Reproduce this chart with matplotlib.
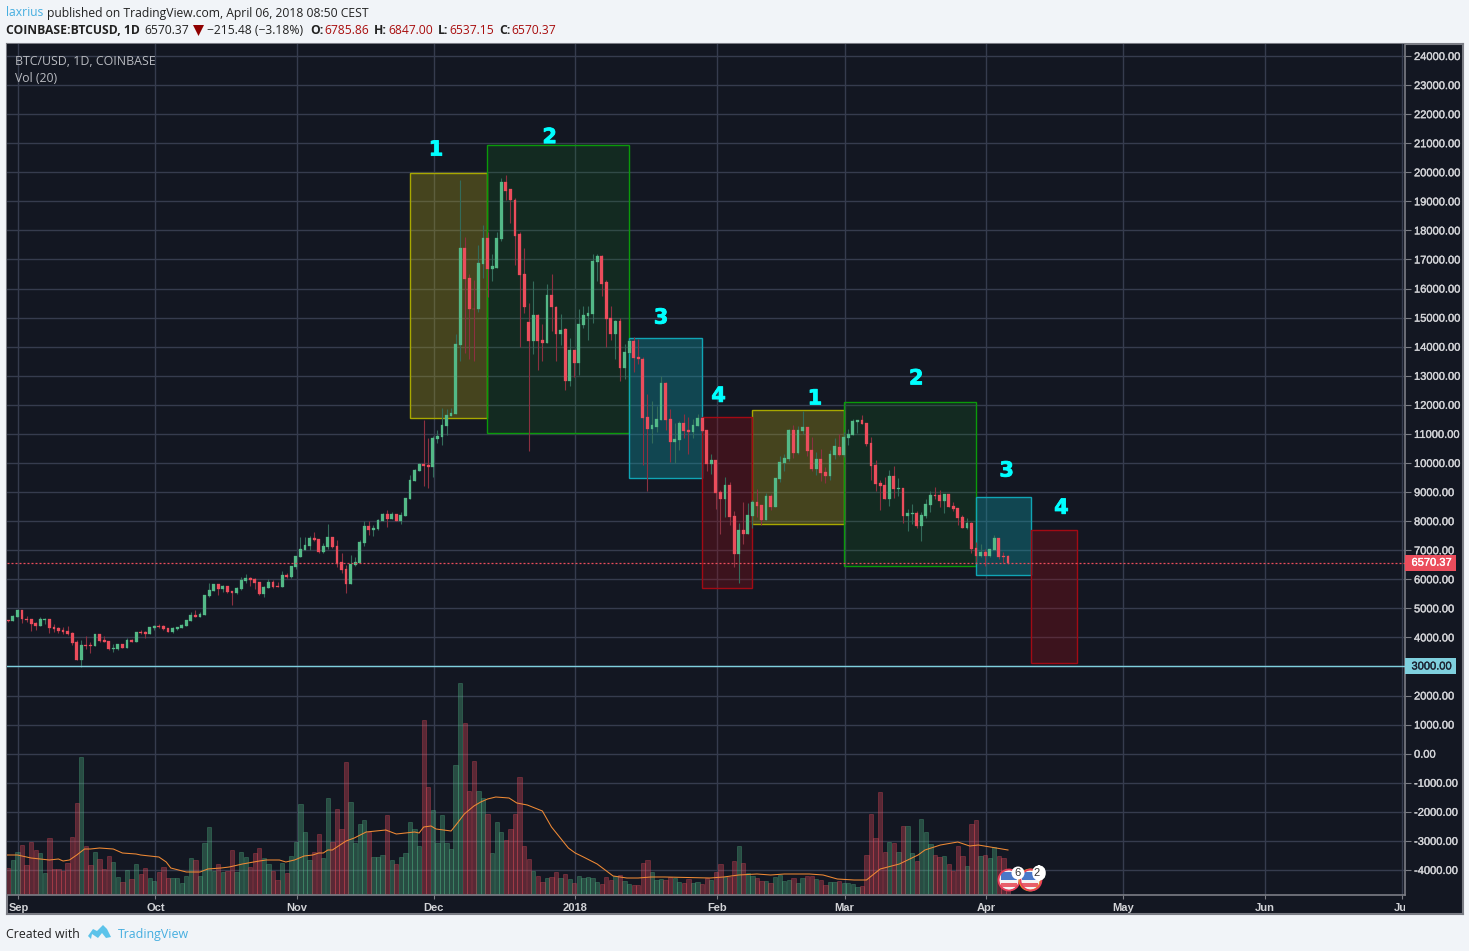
import matplotlib
matplotlib.use("Agg")
import matplotlib.pyplot as plt
import matplotlib.dates as mdates
import matplotlib.patheffects as pe
from matplotlib.patches import Rectangle, Circle, Polygon, FancyBboxPatch
import numpy as np
import pandas as pd

# ---------- data ----------
first_day = "2017-08-30"
ohlc = [
(4590,4610,4530,4560),(4560,4760,4550,4730),(4700,4950,4690,4940),(4940,4950,4490,4630),(4630,4730,4530,4590),
(4630,4640,4220,4460),(4490,4530,4250,4390),(4390,4700,4380,4630),(4590,4660,4460,4630),(4630,4650,4150,4320),
(4350,4460,4180,4280),(4320,4350,4150,4220),(4250,4350,4110,4180),(4220,4390,4080,4110),(4150,4180,3730,3800),
(3840,3910,3210,3220),(3220,3910,2980,3730),(3730,4040,3600,3700),(3730,3840,3460,3700),(3700,4120,3690,4110),
(4110,4120,3840,3870),(3910,4040,3830,3840),(3870,3880,3560,3600),(3600,3770,3490,3630),(3600,3790,3560,3770),
(3770,3790,3620,3630),(3630,3980,3620,3910),(3910,3940,3830,3840),(3840,4200,3830,4180),(4180,4250,4110,4150),
(4180,4220,3980,4110),(4110,4360,4100,4350),(4320,4410,4250,4390),(4390,4460,4340,4350),(4390,4420,4250,4280),
(4320,4330,4170,4180),(4180,4350,4150,4320),(4280,4360,4270,4350),(4320,4460,4310,4420),(4390,4600,4380,4590),
(4560,4870,4550,4770),(4770,4940,4700,4700),(4700,4870,4690,4800),(4770,5460,4760,5450),(5420,5870,5400,5630),
(5590,5840,5580,5830),(5830,5840,5450,5660),(5660,5800,5560,5760),(5760,5770,5530,5560),(5590,5600,5110,5520),
(5520,5750,5510,5700),(5660,6070,5630,5970),(5940,6180,5870,6040),(6040,6070,5760,5970),(6010,6040,5660,5870),
(5900,5910,5450,5490),(5490,5760,5390,5730),(5700,6010,5690,5900),(5900,5970,5700,5730),(5760,5900,5740,5740),
(5730,6280,5720,6140),(6140,6210,6060,6070),(6070,6460,6060,6450),(6420,6810,6350,6800),(6760,7450,6750,7040),
(7000,7450,6990,7180),(7140,7480,7000,7420),(7420,7620,7320,7350),(7380,7390,6900,6930),(6930,7240,6920,7140),
(7110,7900,7040,7450),(7450,7460,7070,7110),(7140,7350,6420,6520),(6590,6900,6210,6310),(6350,6490,5520,5830),
(5830,6830,5820,6520),(6490,6760,6450,6590),(6560,7350,6550,7280),(7240,8000,7140,7830),(7830,8000,7520,7690),
(7690,7860,7480,7760),(7730,8090,7690,8040),(8000,8280,7990,8240),(8240,8380,7790,8070),(8070,8310,8060,8240),
(8240,8250,7990,8000),(8000,8310,7900,8210),(8170,8800,8160,8790),(8760,9580,8750,9410),(9380,9790,9370,9760),
(9740,10000,9730,9980),(9980,11490,9200,9910),(9940,10870,9150,9870),(9870,10940,9530,10870),(10840,11150,10700,10940),
(10910,11900,10630,11320),(11280,11840,10970,11660),(11630,11900,11620,11730),(11700,14450,11690,14110),(14070,19720,13520,17410),
(17410,17790,13800,16340),(16380,16510,13560,15280),(15310,16310,13520,15280),(15280,17510,15210,16890),(16860,18170,16380,17750),
(17750,17930,15720,16690),(16690,17200,16270,16760),(16720,17930,16710,17750),(17720,19820,17650,19680),(19680,19920,19030,19370),
(19410,19420,18240,19030),(19060,19130,16820,17820),(17860,17930,14000,16480),(16510,17380,15170,15380),(14860,15520,10420,14210),
(14210,16270,13760,15100),(15100,15110,13210,14210),(14240,14790,13520,14140),(14140,16170,14130,15790),(15790,16510,14550,15350),
(15380,15390,13520,14420),(14420,15140,14070,14590),(14620,14630,12520,12830),(12830,14310,12660,13870),(13870,13880,12970,13450),
(13450,15280,13010,14790),(14760,15410,14660,15100),(15070,15410,14240,15170),(15140,17200,14830,16960),(16930,17200,16270,17130),
(17130,17140,15760,16170),(16210,16310,14000,14970),(15000,15410,14240,14450),(14450,14910,13560,14900),(14900,14990,12830,13280),
(13280,14110,12900,13830),(13800,14220,13790,14210),(14210,14350,13140,13620),(13660,14280,13420,13560),(13590,13660,9940,11560),
(11590,12390,9050,11180),(11180,12140,10700,11320),(11250,11970,11080,11530),(11490,12990,11480,12760),(12760,12770,11150,11490),
(11530,11870,10050,10730),(10730,11390,10000,10840),(10800,11460,10460,11390),(11390,11700,10870,11110),(11150,11590,10320,11080),
(11080,11530,10870,11320),(11280,11700,11270,11560),(11550,11590,11050,11100),(11130,11140,9720,9960),(9960,10310,9620,10100),
(10100,10110,8410,8960),(9000,9070,7550,8760),(8760,9510,8140,9240),(9240,9340,7860,8140),(8170,8350,6420,6870),
(6870,7930,5870,7690),(7690,8650,7210,7550),(7550,8620,7540,8210),(8170,8720,7760,8650),(8650,9100,8140,8520),
(8550,8560,7860,8040),(8040,8960,8030,8860),(8860,8930,8380,8480),(8480,9490,8470,9480),(9450,10240,9340,10030),
(10000,10310,9720,10170),(10130,11170,10070,11130),(11130,11300,10170,10340),(10340,11270,10310,11130),(11100,11790,10990,11240),
(11240,11250,10240,10410),(10440,10890,9720,9790),(9790,10380,9580,10130),(10130,10480,9380,9650),(9690,9860,9310,9550),
(9550,10440,9410,10310),(10270,10860,10130,10580),(10550,10990,10250,10270),(10270,11060,10190,10890),(10860,11170,10620,10990),
(10960,11510,10950,11440),(11410,11490,11030,11480),(11480,11650,11330,11340),(11370,11380,10580,10650),(10680,10890,9410,9890),
(9930,10100,9030,9270),(9310,9410,8380,9210),(9240,9510,8750,8760),(8760,9760,8520,9550),(9550,9890,8790,9100),
(9100,9480,8860,9140),(9140,9150,7930,8170),(8170,8410,7660,8280),(8240,8590,7900,8280),(8280,8350,7760,7830),
(7830,8310,7310,8210),(8170,8760,8100,8590),(8550,9030,8300,8900),(8900,9170,8760,8860),(8900,9070,8480,8690),
(8690,8940,8280,8930),(8930,8940,8470,8480),(8520,8650,8350,8410),(8450,8460,7860,8100),(8140,8210,7750,7760),
(7760,8100,7730,7930),(7930,7970,6900,7040),(7070,7280,6590,6800),(6800,7210,6760,6930),(6930,7040,6450,6800),
(6800,7050,6760,7040),(7000,7520,6990,7420),(7420,7430,6690,6760),(6800,6930,6560,6760),(6785.86,6847,6537.15,6570.37),
]
volume = [
26,34,42,49,29,52,44,41,21,56,25,25,23,31,57,91,137,48,29,42,35,25,38,32,17,12,24,15,30,20,
26,16,13,22,27,16,16,16,11,18,36,34,18,51,67,23,30,22,23,44,22,42,37,27,41,46,36,30,23,14,
31,21,38,52,90,62,34,42,60,36,96,52,85,65,132,92,51,70,74,62,37,37,39,79,34,30,37,41,72,65,
48,174,107,84,51,79,51,45,129,211,171,103,133,103,96,80,41,72,62,54,65,80,117,48,35,23,18,12,16,17,
22,16,20,15,11,18,16,17,16,12,10,17,14,18,19,13,10,9,9,31,34,22,14,15,14,17,16,12,11,15,
11,12,10,16,14,22,30,17,17,33,48,31,21,18,16,13,13,11,17,19,13,14,16,11,16,18,18,15,14,9,
12,12,13,11,11,10,7,8,39,80,56,102,42,52,51,42,68,68,41,33,75,62,50,39,37,38,30,23,48,38,
28,70,74,38,39,36,47,38,36,24,
]
ma_days = [-2.3,0,3,5,7,9,10,11.4,13,14.7,16,18,21,23,26,27,31,32.6,33.6,37,40,41.7,44.6,46.4,49.3,53,54.5,57.4,58.8,60.7,
62.8,64.7,66,67,68,69,72,73.8,76.4,80.7,83,85,87,88,89,90.6,91.7,95,96.4,97.9,100,101.5,103,104.8,107.7,109.4,111.7,115,117,120.7,
122.2,124,127,130.5,133.5,136,138.8,141.8,151.7,154.7,158,162,165,168,173.5,176.5,179.6,183.3,186,189,193.2,197.3,198.8,202.2,206,208.6,210.5,213.1,217]
ma_values = [39,39,36,35,34,35,33,34,39,45,45,46,45,41,40,39,37,32,26,22,22,25,26,27,30,33,34,34,32,34,
38,39,41,41,44,44,53,56,62,64,60,61,62,61,67,68,65,63,71,80,88,92,95,97,96,91,89,83,67,46,
41,37,30,18,16,16,17,17,16,17,19,20,19,20,20,19,15,14,14,25,30,39,44,49,52,48,49,47,44]
price_ticks = list(range(-4000, 24001, 1000))
month_ticks = ["2017-09-01","2017-10-01","2017-11-01","2017-12-01","2018-01-01","2018-02-01",
               "2018-03-01","2018-04-01","2018-05-01","2018-06-01","2018-07-01"]
month_labels = ["Sep","Oct","Nov","Dec","2018","Feb","Mar","Apr","May","Jun","Jul"]
last_price = 6570.37
support_price = 3000
# annotation boxes: start day, end day, top price, bottom price
boxes_yellow = [("2017-11-26.0","2017-12-12.9",19985,11555),("2018-02-08.9","2018-03-01.1",11815,7910)]
boxes_green  = [("2017-12-12.9","2018-01-13.0",20950,11040),("2018-03-01.1","2018-03-30.0",12090,6465)]
boxes_teal   = [("2018-01-13.0","2018-01-29.0",14290,9490),("2018-03-30.0","2018-04-11.0",8820,6140)]
boxes_red    = [("2018-01-29.0","2018-02-08.9",11590,5710),("2018-04-11.0","2018-04-21.1",7700,3130)]
wave_labels = [("1","2017-12-01.7",20780),("2","2017-12-26.6",21210),("3","2018-01-20",15000),("4","2018-02-01.6",12310),
               ("1","2018-02-22.7",12220),("2","2018-03-16.9",12910),("3","2018-04-05.7",9740),("4","2018-04-17.7",8460)]

# ---------- style ----------
W, H = 1469, 951
BG = "#131722"; PAGE = "#f1f4f8"; GRID = "#363c4e"; FRAME = "#7b7d85"
UP = "#53b987"; DOWN = "#eb4d5c"; UPW = "#336b5a"; DOWNW = "#8c3040"
TXT = "#d2d3d7"
ff = ["Open Sans", "DejaVu Sans"]

def dnum(s):
    s = str(s)
    if s.count(".") == 1:
        d, f = s.split(".")
        return mdates.date2num(pd.Timestamp(d)) + float("0." + f)
    return mdates.date2num(pd.Timestamp(s))

fig = plt.figure(figsize=(W/100, H/100), dpi=100, facecolor=PAGE)
L, R, T, B = 6.5, 1405.0, 44.0, 895.0
rect = [L/W, 1-B/H, (R-L)/W, (B-T)/H]

t0 = dnum(first_day)
px_day = 4.565
xlim = (t0 + 2 + (L-17.4)/px_day, t0 + 2 + (R-17.4)/px_day)
grid_shift = 0.22
ylim = (24000-(B-56.0)/0.02907, 24000+(56.0-T)/0.02907)

# outer frame + time/price scale backgrounds
frame = fig.add_axes([L/W, 1-914.0/H, (1462.5-L)/W, (914.0-T)/H], zorder=0)
frame.set_facecolor(BG); frame.set_xticks([]); frame.set_yticks([])
for s in frame.spines.values():
    s.set_color(FRAME); s.set_linewidth(1.5)

# volume pane (under)
axv = fig.add_axes(rect, zorder=1)
axv.set_facecolor(BG)
axv.set_xlim(*xlim); axv.set_ylim(-1, 850)
ticks_x = [dnum(m)+grid_shift for m in month_ticks]
for tx in ticks_x:
    axv.axvline(tx, color=GRID, lw=1.0, zorder=1)
ys = [(p-ylim[0])/(ylim[1]-ylim[0]) for p in price_ticks]
for yy in ys:
    axv.axhline(yy*851-1, color=GRID, lw=1.0, zorder=1)
x = t0 + np.arange(len(ohlc))
o, h, l, c = [np.array(a, float) for a in zip(*ohlc)]
up = c >= o
vol = np.array(volume, float)
axv.bar(x[up], vol[up], width=0.94, facecolor=(0x53/255,0xb9/255,0x87/255,0.33),
        edgecolor=(0x53/255,0xb9/255,0x87/255,0.30), linewidth=0.7, zorder=2)
axv.bar(x[~up], vol[~up], width=0.94, facecolor=(0xeb/255,0x4d/255,0x5c/255,0.33),
        edgecolor=(0xeb/255,0x4d/255,0x5c/255,0.30), linewidth=0.7, zorder=2)
axv.plot(t0+2+np.array(ma_days), ma_values, color="#f08a35", lw=0.75, zorder=3)
axv.set_xticks([]); axv.set_yticks([])
for s in axv.spines.values():
    s.set_visible(False)

# price pane
ax = fig.add_axes(rect, zorder=2)
ax.patch.set_alpha(0)
ax.set_xlim(*xlim); ax.set_ylim(*ylim)

def boxes(lst, fc, ec):
    for a, b, top, bot in lst:
        x0, x1 = dnum(a), dnum(b)
        ax.add_patch(Rectangle((x0, bot), x1-x0, top-bot, facecolor=fc, edgecolor="none", zorder=2))
        ax.add_patch(Rectangle((x0, bot), x1-x0, top-bot, facecolor="none", edgecolor=ec, lw=1.0, zorder=3))
boxes(boxes_yellow, (186/255,175/255,24/255,0.30), "#a8a800")
boxes(boxes_green, (20/255,160/255,30/255,0.14), "#0a9a0a")
boxes(boxes_teal, (16/255,160/255,171/255,0.35), "#10a5b5")
boxes(boxes_red, (157/255,13/255,20/255,0.30), "#a30a14")

ax.vlines(x[up], l[up], h[up], color=UPW, lw=0.8, zorder=4)
ax.vlines(x[~up], l[~up], h[~up], color=DOWNW, lw=0.8, zorder=4)
body_lo = np.minimum(o, c); body_hi = np.maximum(o, c)
ax.bar(x[up], (body_hi-body_lo)[up], bottom=body_lo[up], width=0.62, color=UP, edgecolor=UP, lw=0.2, zorder=5)
ax.bar(x[~up], (body_hi-body_lo)[~up], bottom=body_lo[~up], width=0.62, color=DOWN, edgecolor=DOWN, lw=0.2, zorder=5)

ax.axhline(last_price, color=DOWN, lw=0.9, ls=(0, (1.6, 1.6)), zorder=6)
ax.axhline(support_price, color="#7fd0de", lw=1.0, zorder=6)

for s, dd, p in wave_labels:
    ax.text(dnum(dd), p, s, color="#00ffff", fontsize=15, fontweight="bold", family="DejaVu Sans",
            ha="center", va="center", zorder=8,
            path_effects=[pe.withStroke(linewidth=0.6, foreground="#00ffff")])

stroke = [pe.withStroke(linewidth=0.25, foreground=TXT)]
ax.yaxis.tick_right()
ax.set_yticks(price_ticks)
ax.set_yticklabels([f"{p:.2f}" for p in price_ticks], fontsize=8, color=TXT, family="Liberation Sans", path_effects=stroke)
ax.tick_params(axis="y", length=4, width=0.8, color=FRAME, pad=2.5)
ax.set_xticks(ticks_x)
ax.set_xticklabels(month_labels, fontsize=8, color=TXT, family="Liberation Sans", fontweight="bold")
ax.tick_params(axis="x", length=3, width=0.8, color=FRAME, pad=3)
for s in ["top", "left"]:
    ax.spines[s].set_visible(False)
for s in ["bottom", "right"]:
    ax.spines[s].set_color(FRAME); ax.spines[s].set_linewidth(1.2)
ax.get_xticklabels()[-1].set_clip_box(matplotlib.transforms.Bbox([[0,0],[R,H]]))

# right-axis price tags
trans = ax.get_yaxis_transform()
tagw = 51/(R-L)
for p, fc, tc in [(last_price, DOWN, "white"), (support_price, "#7fd0de", "#1d2433")]:
    ax.add_patch(Rectangle((1.0, p-275), tagw, 550, transform=trans, facecolor=fc, edgecolor="none",
                           clip_on=False, zorder=9))
    ax.text(1.0+6.5/(R-L), p, f"{p:.2f}", transform=trans, color=tc, fontsize=8, family="Liberation Sans",
            va="center", ha="left", zorder=10, clip_on=False,
            path_effects=[pe.withStroke(linewidth=0.25, foreground=tc)])

# pixel overlay for page chrome
ov = fig.add_axes([0, 0, 1, 1], zorder=5)
ov.set_xlim(0, W); ov.set_ylim(H, 0); ov.axis("off"); ov.patch.set_alpha(0)
def t(xp, yp, s, color="#222222", size=8.7, weight="normal", fam=ff):
    ov.text(xp, yp, s, color=color, fontsize=size, fontweight=weight, family=fam, va="center", ha="left")
t(6, 13, "laxrius", "#45aee0")
t(47.5, 13, "published on TradingView.com, April 06, 2018 08:50 CEST")
t(6, 30.5, "COINBASE:BTCUSD, 1D", weight="bold")
t(144, 30.5, "6570.37")
ov.add_patch(Polygon([(193,25),(204,25),(198.5,36)], closed=True, fc="#8f0000", ec="none"))
t(207, 30.5, "\u2212215.48 (\u22123.18%)")
RED = "#a80d0d"
for xl, lab, xv, val in [(310,"O:",324,"6785.86"),(374,"H:",388,"6847.00"),(438,"L:",449,"6537.15"),(499,"C:",511,"6570.37")]:
    t(xl, 30.5, lab, weight="bold"); t(xv, 30.5, val, RED)
t(15, 61.5, "BTC/USD, 1D, COINBASE", "#b9bbc1", 8.95)
t(15, 78.5, "Vol (20)", "#b9bbc1", 8.8)
t(6, 934.5, "Created with", "#222222", 8.9)
t(118, 934.5, "TradingView", "#45aee0", 8.95)
ov.add_patch(Polygon([(88,936),(93,929),(97,931),(103,925),(107,929),(111,937),(106,938),(102,933),(98,938),(92,934),(91,939)],
                     closed=True, fc="#5cc3ea", ec="none"))
# event flags
for cx, ring in [(1009, "#e8405a"), (1030, "#f09020")]:
    ov.add_patch(Circle((cx, 880), 10, fc="#f4f4f4", ec="none"))
    ov.add_patch(Rectangle((cx-8, 872), 16, 8, fc="#4a78c8", ec="none"))
    ov.add_patch(Rectangle((cx-8, 883), 16, 4, fc="#e8606a", ec="none"))
    ov.add_patch(Circle((cx, 880), 10.5, fc="none", ec=ring, lw=1.3))
ov.add_patch(Circle((1031, 880), 10.5, fc="none", ec="#e8405a", lw=1.2))
ov.add_patch(Circle((1018, 873), 6.5, fc="white", ec="none"))
ov.add_patch(FancyBboxPatch((1035, 868), 8, 10, boxstyle="round,pad=0,rounding_size=5", fc="white", ec="white", lw=4))
ov.text(1018, 873, "6", fontsize=8, ha="center", va="center", color="#333333", family="Liberation Sans")
ov.text(1037, 873, "2", fontsize=8, ha="center", va="center", color="#333333", family="Liberation Sans")

fig.savefig("out.png", dpi=100, facecolor=PAGE)
